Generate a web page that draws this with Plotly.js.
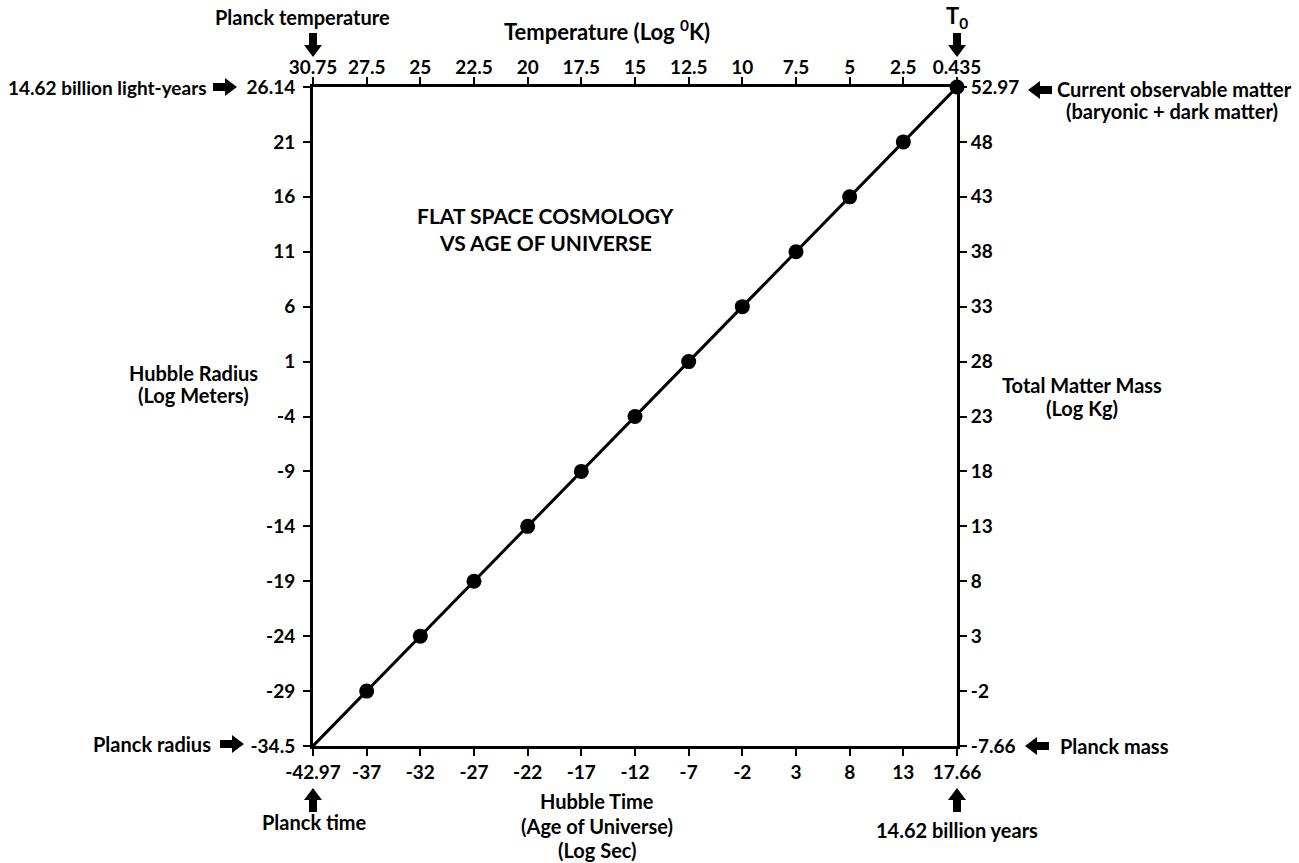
<!DOCTYPE html>
<html>
<head>
<meta charset="utf-8">
<script src="https://cdn.plot.ly/plotly-3.0.1.min.js"></script>
<style>
  html, body { margin: 0; padding: 0; background: #fff; }
  #chart { width: 1299px; height: 863px; }
</style>
</head>
<body>
<div id="chart"></div>
<script>
// ---- data ----
// Hubble time, log seconds (bottom axis)
const hubbleTimeLog = [-42.97, -37, -32, -27, -22, -17, -12, -7, -2, 3, 8, 13, 17.66];
// Hubble radius, log meters (left axis)
const hubbleRadiusLog = [-34.5, -29, -24, -19, -14, -9, -4, 1, 6, 11, 16, 21, 26.14];
// Temperature, log K (top axis)
const temperatureLog = [30.75, 27.5, 25, 22.5, 20, 17.5, 15, 12.5, 10, 7.5, 5, 2.5, 0.435];
// Total matter mass, log kg (right axis)
const matterMassLog = [-7.66, -2, 3, 8, 13, 18, 23, 28, 33, 38, 43, 48, 52.97];
// which points carry a dot marker (Planck point has none)
const markerShown = [false, true, true, true, true, true, true, true, true, true, true, true, true];

const S = v => String(v);
const xCats = hubbleTimeLog.map(S), yCats = hubbleRadiusLog.map(S);
const x2Cats = temperatureLog.map(S), y2Cats = matterMassLog.map(S);

// ---- geometry helpers ----
const L = 313, R = 957, T = 87, B = 746;
const px = X => (X - L) / (R - L);
const py = Y => (B - Y) / (B - T);

function blockArrow(cx, cy, dir) {
  const half = 12, sh = 4, hh = 9, hl = 12;
  const pts = [[-half, -sh], [half - hl, -sh], [half - hl, -hh], [half, 0], [half - hl, hh], [half - hl, sh], [-half, sh]];
  const rot = {right: [1, 0], left: [-1, 0], down: [0, 1], up: [0, -1]}[dir];
  const d = pts.map(([u, v]) => {
    const X = cx + u * rot[0] - v * rot[1];
    const Y = cy + u * rot[1] + v * rot[0];
    return px(X).toFixed(5) + ',' + py(Y).toFixed(5);
  });
  return {type: 'path', xref: 'paper', yref: 'paper', path: 'M' + d.join(' L') + ' Z',
          fillcolor: '#000', line: {color: '#000', width: 0}};
}

const FONT = 'Lato, "Open Sans", "Liberation Sans", sans-serif';
function label(text, X, Y, xanchor, size) {
  return {text: text, xref: 'paper', yref: 'paper', x: px(X), y: py(Y),
          xanchor: xanchor || 'center', yanchor: 'middle', showarrow: false,
          font: {family: FONT, size: size || 20, color: '#000', weight: 'bold'}};
}

const axisStyle = {
  type: 'category', range: [0, 12], autorange: false,
  showline: true, linecolor: '#000', linewidth: 3,
  ticks: 'outside', ticklen: 7, tickwidth: 2, tickcolor: '#000',
  showgrid: false, zeroline: false, fixedrange: true,
  tickfont: {family: FONT, size: 19, color: '#000', weight: 'bold'}
};

const traces = [
  {x: xCats, y: yCats, type: 'scatter', mode: 'lines',
   line: {color: '#000', width: 3}, hoverinfo: 'skip', cliponaxis: false},
  {x: xCats.filter((_, i) => markerShown[i]), y: yCats.filter((_, i) => markerShown[i]),
   type: 'scatter', mode: 'markers', marker: {color: '#000', size: 15},
   hoverinfo: 'skip', cliponaxis: false},
  {x: x2Cats, y: y2Cats, xaxis: 'x2', yaxis: 'y2', type: 'scatter', mode: 'markers',
   marker: {opacity: 0}, hoverinfo: 'skip'}
];

const layout = {
  width: 1299, height: 863,
  margin: {l: L, r: 1299 - R, t: T, b: 863 - B, pad: 0},
  paper_bgcolor: '#fff', plot_bgcolor: '#fff',
  showlegend: false,
  xaxis: Object.assign({}, axisStyle, {categoryorder: 'array', categoryarray: xCats, side: 'bottom', anchor: 'y'}),
  yaxis: Object.assign({}, axisStyle, {categoryorder: 'array', categoryarray: yCats, side: 'left', anchor: 'x', ticklabelstandoff: 4}),
  xaxis2: Object.assign({}, axisStyle, {categoryorder: 'array', categoryarray: x2Cats, side: 'top', overlaying: 'x', anchor: 'y', ticklabelstandoff: -5}),
  yaxis2: Object.assign({}, axisStyle, {categoryorder: 'array', categoryarray: y2Cats, side: 'right', overlaying: 'y', anchor: 'x'}),
  annotations: [
    label('FLAT SPACE COSMOLOGY', 545, 215, 'center', 21),
    label('VS AGE OF UNIVERSE', 545, 243, 'center', 21),
    label('Temperature (Log <sup>0</sup>K)', 607, 30, 'center', 22),
    label('Planck temperature', 302, 17, 'center', 20),
    label('T<sub>0</sub>', 957, 17, 'center', 22),
    label('14.62 billion light-years', 209, 87, 'right', 19),
    label('Planck radius', 213, 744, 'right', 20),
    label('Current observable matter', 1055, 89, 'left', 20),
    label('(baryonic + dark matter)', 1172, 111, 'center', 20),
    label('Planck mass', 1058, 746, 'left', 20),
    label('Planck time', 314, 822, 'center', 20),
    label('14.62 billion years', 957, 830, 'center', 20),
    label('Hubble Time', 597, 801, 'center', 20),
    label('(Age of Universe)', 597, 826, 'center', 20),
    label('(Log Sec)', 597, 850, 'center', 20),
    label('Hubble Radius', 193, 373, 'center', 20),
    label('(Log Meters)', 193, 395, 'center', 20),
    label('Total Matter Mass', 1082, 385, 'center', 20),
    label('(Log Kg)', 1082, 408, 'center', 20)
  ],
  shapes: [
    blockArrow(313, 45, 'down'),
    blockArrow(957, 45, 'down'),
    blockArrow(225, 87, 'right'),
    blockArrow(232, 744, 'right'),
    blockArrow(1040, 90, 'left'),
    blockArrow(1037, 746, 'left'),
    blockArrow(313, 800, 'up'),
    blockArrow(957, 800, 'up')
  ]
};

Plotly.newPlot('chart', traces, layout, {displayModeBar: false, staticPlot: true});
</script>
</body>
</html>
